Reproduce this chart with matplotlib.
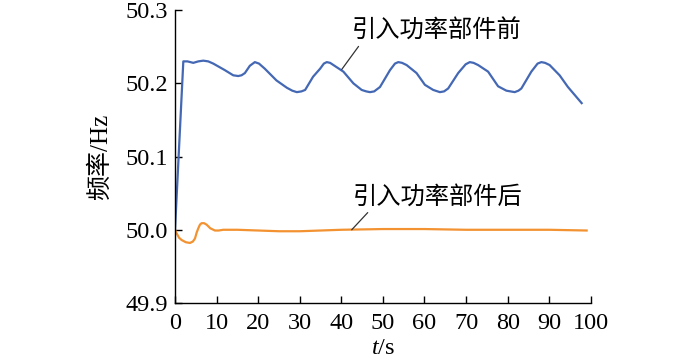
import matplotlib
matplotlib.use("Agg")
import matplotlib.pyplot as plt

plt.rcParams['font.family'] = ['Liberation Serif', 'Noto Sans CJK SC']
plt.rcParams['mathtext.fontset'] = 'custom'
plt.rcParams['mathtext.rm'] = 'Liberation Serif'
plt.rcParams['mathtext.it'] = 'Liberation Serif:italic'

# Before introducing power component
t_before = [0, 2.0, 3.0, 4.4, 5.6, 6.8, 8.0, 9.2, 12.0, 14.0, 15.2, 16.0, 16.8, 18.0, 19.2,
            20.2, 21.6, 24.4, 26.9, 28.2, 29.3, 30.4, 31.3, 33.2, 34.9, 35.8, 36.5, 37.3,
            38.1, 40.5, 42.9, 44.9, 46.0, 46.9, 47.9, 49.3, 51.7, 52.9, 53.7, 54.6, 55.7,
            58.1, 60.1, 62.1, 63.7, 64.7, 65.7, 68.1, 69.9, 70.9, 71.8, 72.9, 75.3, 77.7,
            79.7, 81.7, 82.6, 83.3, 85.7, 87.2, 88.1, 89.0, 90.1, 92.5, 94.5, 97.8]
f_before = [50.0, 50.230, 50.230, 50.228, 50.230, 50.231, 50.230, 50.227, 50.218, 50.211,
            50.210, 50.211, 50.214, 50.224, 50.229, 50.227, 50.220, 50.204, 50.194, 50.190,
            50.188, 50.189, 50.191, 50.209, 50.220, 50.227, 50.229, 50.228, 50.225, 50.216,
            50.200, 50.191, 50.189, 50.188, 50.189, 50.195, 50.218, 50.227, 50.229, 50.228,
            50.225, 50.214, 50.198, 50.191, 50.188, 50.189, 50.193, 50.214, 50.226, 50.229,
            50.228, 50.225, 50.216, 50.196, 50.190, 50.188, 50.190, 50.193, 50.216, 50.227,
            50.229, 50.228, 50.225, 50.211, 50.195, 50.173]

# After introducing power component
t_after = [0, 0.4, 1.0, 1.6, 2.6, 3.6, 4.3, 4.8, 5.2, 5.6, 6.0, 6.4, 7.0, 7.6, 8.5, 9.6,
           10.5, 11.6, 15, 20, 25, 30, 35, 40, 50, 60, 70, 80, 90, 99]
f_after = [50.0, 49.995, 49.989, 49.986, 49.983, 49.982, 49.984, 49.988, 49.996, 50.002,
           50.007, 50.009, 50.009, 50.007, 50.002, 49.999, 49.999, 50.000, 50.000, 49.999,
           49.998, 49.998, 49.999, 50.000, 50.001, 50.001, 50.000, 50.000, 50.000, 49.999]

x_ticks = [0, 10, 20, 30, 40, 50, 60, 70, 80, 90, 100]
y_ticks = [49.9, 50.0, 50.1, 50.2, 50.3]
label_before = "引入功率部件前"
label_after = "引入功率部件后"

fig = plt.figure(figsize=(7.0, 3.62), dpi=100)
ax = fig.add_axes([0.25, 0.163, 0.594, 0.809])

ax.plot(t_before, f_before, color='#4468B4', lw=1.6, solid_joinstyle='round')
ax.plot(t_after, f_after, color='#F39231', lw=1.6, solid_joinstyle='round')

ax.set_xlim(0, 100)
ax.set_ylim(49.9, 50.3)
ax.set_xticks(x_ticks)
ax.set_yticks(y_ticks)
ax.set_xticklabels([str(v) for v in x_ticks])
ax.set_yticklabels([f"{v:.1f}" for v in y_ticks])
ax.tick_params(direction='in', length=5, width=1.0, labelsize=17.5)
ax.tick_params(axis='x', pad=7)
ax.tick_params(axis='y', pad=5)
for s in ['top', 'right']:
    ax.spines[s].set_visible(False)
for s in ['left', 'bottom']:
    ax.spines[s].set_linewidth(1.0)

ax.set_xlabel('$t$/s', fontsize=17.5, labelpad=3)
ax.set_ylabel('频率/Hz', fontsize=18, labelpad=10)

ax.annotate(label_before, xy=(40.1, 50.219), xytext=(63.0, 50.272),
            fontsize=17.5, ha='center', va='center', family=['Noto Sans CJK SC'],
            arrowprops=dict(arrowstyle='-', color='#333333', lw=0.9,
                            shrinkA=0, shrinkB=0, relpos=(0.05, 0.0)))
ax.annotate(label_after, xy=(42.5, 50.0), xytext=(63.3, 50.045),
            fontsize=17.5, ha='center', va='center', family=['Noto Sans CJK SC'],
            arrowprops=dict(arrowstyle='-', color='#333333', lw=0.9,
                            shrinkA=0, shrinkB=0, relpos=(0.1, 0.0)))

fig.savefig('out.png', dpi=100)
